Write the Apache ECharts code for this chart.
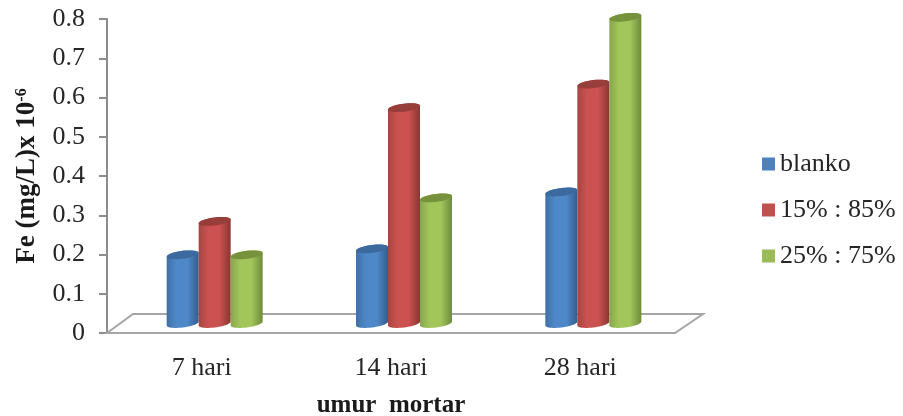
<!DOCTYPE html>
<html>
<head>
<meta charset="utf-8">
<script src="https://cdn.jsdelivr.net/npm/echarts@6/dist/echarts.min.js"></script>
<style>html,body{margin:0;padding:0;background:#fff}#c{width:903px;height:416px}</style>
</head>
<body>
<div id="c"></div>
<script>
const categories = ['7 hari', '14 hari', '28 hari'];
const blanko = [0.175, 0.19, 0.335];
const mix15 = [0.26, 0.55, 0.61];
const mix25 = [0.175, 0.32, 0.78];
const seriesNames = ['blanko', '15% : 85%', '25% : 75%'];
const palette = [
  { flat: '#4f81bd', edgeL: '#3f6fa6', mid: '#4f88c8', edgeR: '#335d8e', top: '#3c6a9e' },
  { flat: '#c0504d', edgeL: '#a64542', mid: '#cb5250', edgeR: '#8a3533', top: '#973d3a' },
  { flat: '#9bbb59', edgeL: '#87a64c', mid: '#a2c65a', edgeR: '#6f8a3d', top: '#76923c' }
];
const FONT = '"Liberation Serif", serif';
const DX = 27, DY = 19, RY = 4, SHEAR = 0.12;

function ellipsePts(cx, cy, rx, from, to) {
  const pts = [];
  for (let i = 0; i <= 24; i++) {
    const t = from + (to - from) * i / 24;
    const ox = rx * Math.cos(t);
    pts.push([cx + ox, cy + RY * Math.sin(t) - SHEAR * ox]);
  }
  return pts;
}

function cylinder(idx) {
  return function (params, api) {
    const band = api.size([1, 0])[0];
    const w = band * 0.169;
    const rx = w / 2;
    const p = api.coord([api.value(0), api.value(1)]);
    const base = api.coord([api.value(0), 0]);
    const cx = p[0] + DX / 2 + (idx - 1) * w - 0.5;
    const top = p[1] - DY / 2;
    const bot = base[1] - DY / 2;
    const c = palette[idx];
    const body = ellipsePts(cx, top, rx, Math.PI, 2 * Math.PI)
      .concat(ellipsePts(cx, bot, rx, 0, Math.PI));
    return {
      type: 'group',
      children: [
        {
          type: 'polygon',
          shape: { points: body },
          style: {
            fill: new echarts.graphic.LinearGradient(0, 0, 1, 0, [
              { offset: 0, color: c.edgeL },
              { offset: 0.3, color: c.mid },
              { offset: 0.65, color: c.mid },
              { offset: 1, color: c.edgeR }
            ])
          }
        },
        {
          type: 'polygon',
          shape: { points: ellipsePts(cx, top, rx, 0, 2 * Math.PI) },
          style: { fill: c.top }
        }
      ]
    };
  };
}

function floor(params, api) {
  const s = params.coordSys;
  const y0 = s.y + s.height, x0 = s.x, x1 = s.x + s.width;
  return {
    type: 'polygon',
    shape: { points: [[x0, y0], [x0 + DX - 1, y0 - DY], [x1 + DX + 1, y0 - DY], [x1, y0]] },
    style: { fill: '#fff', stroke: '#a6a6a6', lineWidth: 2 }
  };
}

const values = [blanko, mix15, mix25];
const series = [{
  type: 'custom', name: 'floor', renderItem: floor, data: [[0, 0]], silent: true, z: 1,
  encode: { x: 0, y: 1 }
}].concat(seriesNames.map((name, i) => ({
  type: 'custom',
  name,
  z: 2 + i,
  renderItem: cylinder(i),
  itemStyle: { color: palette[i].flat },
  encode: { x: 0, y: 1 },
  data: categories.map((cat, k) => [k, values[i][k]])
})));

const chart = echarts.init(document.getElementById('c'), null, { renderer: 'canvas' });
chart.setOption({
  animation: false,
  backgroundColor: '#fff',
  grid: { left: 107, top: 19, width: 568, height: 314, containLabel: false, outerBoundsMode: 'none' },
  legend: {
    data: seriesNames,
    orient: 'vertical',
    left: 762,
    top: 151,
    padding: 0,
    itemWidth: 13,
    itemHeight: 13,
    itemGap: 20,
    icon: 'rect',
    textStyle: { fontFamily: FONT, fontSize: 26, color: '#262626' }
  },
  xAxis: {
    type: 'category',
    data: categories,
    name: 'umur  mortar',
    nameLocation: 'middle',
    nameGap: 60,
    nameTextStyle: { fontFamily: FONT, fontWeight: 'bold', fontSize: 25, color: '#1a1a1a' },
    axisLine: { show: true, lineStyle: { color: '#a6a6a6', width: 2 } },
    axisTick: { show: false },
    axisLabel: { fontFamily: FONT, fontSize: 26, color: '#262626', margin: 22 }
  },
  yAxis: {
    type: 'value',
    min: 0,
    max: 0.8,
    interval: 0.1,
    name: 'Fe (mg/L)x 10{s|-6}',
    nameLocation: 'middle',
    nameGap: 66,
    nameRotate: 90,
    nameTextStyle: {
      fontFamily: FONT, fontWeight: 'bold', fontSize: 27, color: '#1a1a1a',
      rich: { s: { fontFamily: FONT, fontWeight: 'bold', fontSize: 16, color: '#1a1a1a', padding: [0, 0, 11, 0] } }
    },
    splitLine: { show: false },
    axisLine: { show: true, lineStyle: { color: '#8c8c8c', width: 2 } },
    axisTick: { show: true, length: 8, lineStyle: { color: '#8c8c8c', width: 2 } },
    axisLabel: {
      fontFamily: FONT, fontSize: 26, color: '#262626', margin: 22, padding: [8, 0, 0, 0],
      formatter: v => String(Math.round(v * 10) / 10)
    }
  },
  series
});
</script>
</body>
</html>
